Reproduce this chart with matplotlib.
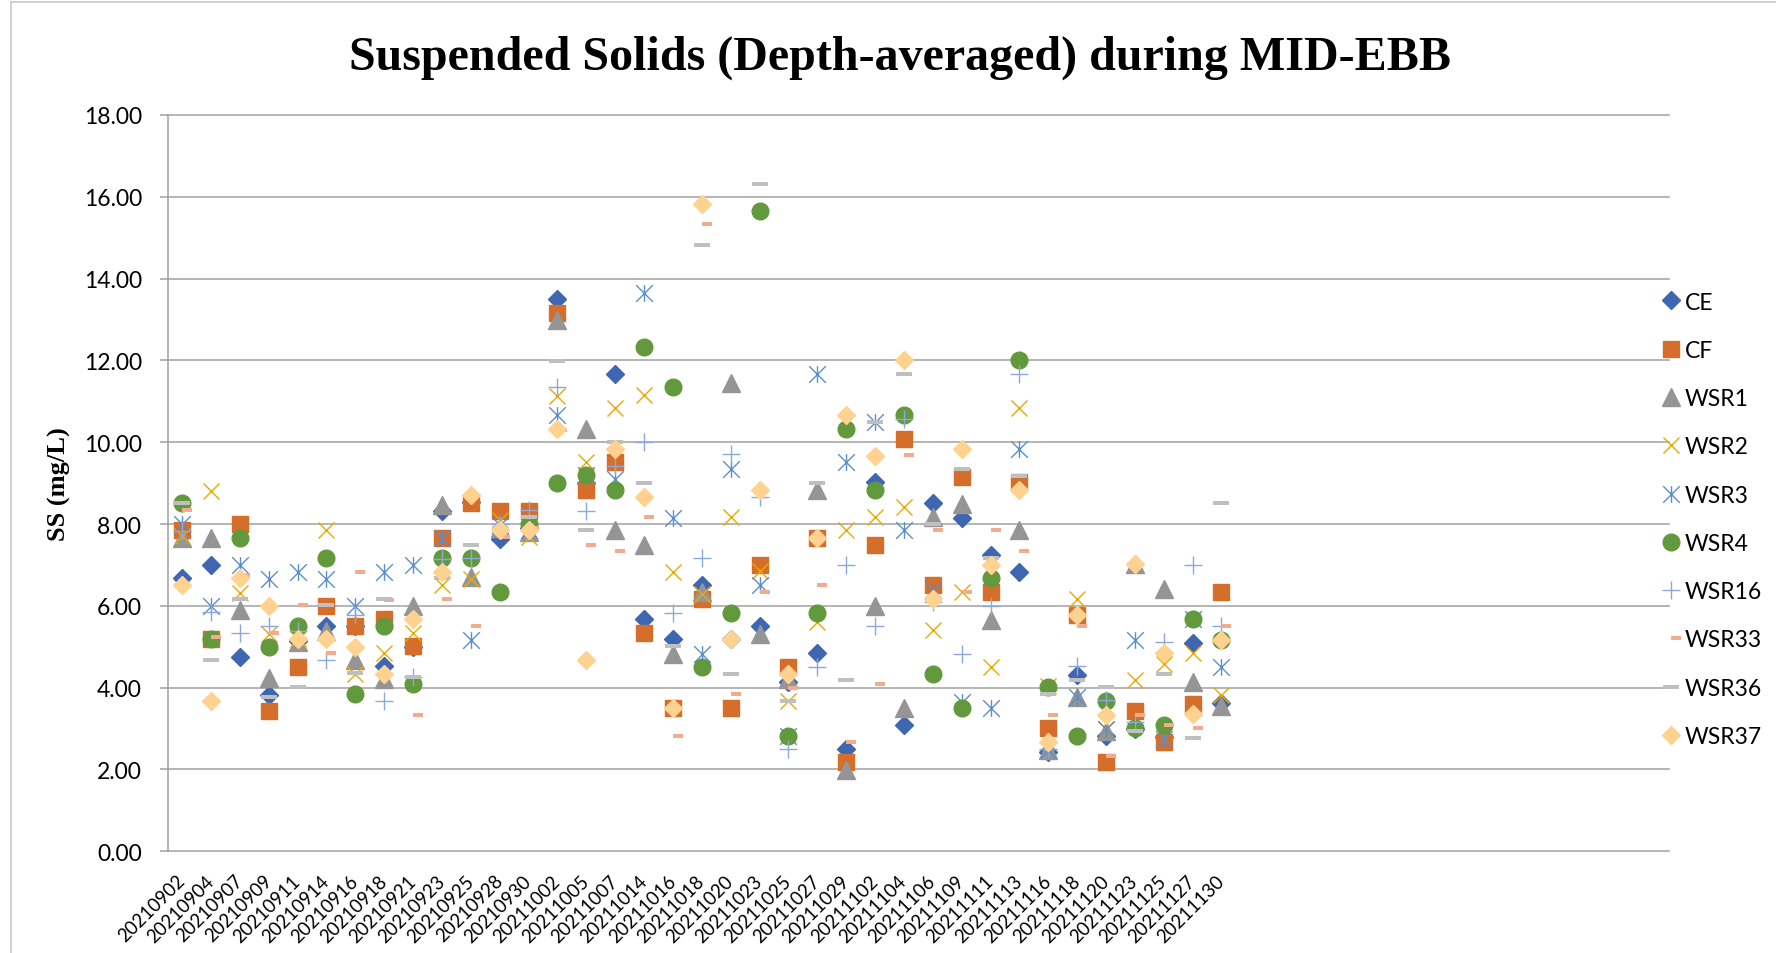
import numpy as np
import matplotlib
matplotlib.use('Agg')
import matplotlib.pyplot as plt
from matplotlib.path import Path
from matplotlib.lines import Line2D

# ---------------- data ----------------
dates = ['20210902', '20210904', '20210907', '20210909', '20210911', '20210914',
         '20210916', '20210918', '20210921', '20210923', '20210925', '20210928',
         '20210930', '20211002', '20211005', '20211007', '20211014', '20211016',
         '20211018', '20211020', '20211023', '20211025', '20211027', '20211029',
         '20211102', '20211104', '20211106', '20211109', '20211111', '20211113',
         '20211116', '20211118', '20211120', '20211123', '20211125', '20211127',
         '20211130']

CE = [6.69, 7.00, 4.76, 3.81, 5.15, 5.52, 5.50, 4.53, 5.00, 8.33, 8.55, 7.64, 7.90,
      13.50, 9.00, 11.67, 5.69, 5.20, 6.52, 5.20, 5.52, 4.14, 4.85, 2.51, 9.03, 3.09,
      8.52, 8.15, 7.25, 6.84, 2.43, 4.30, 2.83, 3.00, 2.80, 5.09, 3.63]
CF = [7.85, 5.18, 8.00, 3.43, 4.50, 6.00, 5.52, 5.69, 5.02, 7.66, 8.51, 8.33, 8.33,
      13.16, 8.84, 9.52, 5.34, 3.51, 6.17, 3.51, 7.01, 4.50, 7.67, 2.18, 7.50, 10.08,
      6.52, 9.15, 6.34, 9.03, 3.01, 5.77, 2.18, 3.44, 2.67, 3.59, 6.34]
WSR1 = [7.66, 7.66, 5.90, 4.23, 5.12, 5.38, 4.67, 4.22, 6.00, 8.46, 6.70, 7.90, 7.80,
        13.00, 10.32, 7.85, 7.48, 4.83, 6.34, 11.46, 5.32, 4.20, 8.83, 1.98, 6.00, 3.50,
        8.17, 8.50, 5.65, 7.85, 2.47, 3.77, 2.95, 7.03, 6.42, 4.15, 3.56]
WSR2 = [7.70, 8.82, 6.32, 5.32, 5.20, 7.85, 4.34, 4.85, 5.34, 6.50, 6.66, 8.09, 7.68,
        11.14, 9.51, 10.83, 11.15, 6.83, 6.30, 8.17, 6.85, 3.67, 5.60, 7.85, 8.17, 8.42,
        5.42, 6.34, 4.50, 10.83, 4.05, 6.17, 3.00, 4.18, 4.59, 4.85, 3.83]
WSR3 = [8.00, 6.00, 7.00, 6.66, 6.84, 6.66, 6.00, 6.83, 7.00, 7.66, 5.16, 7.97, 7.85,
        10.67, 9.20, 9.10, 13.66, 8.15, 4.83, 9.35, 6.50, 2.83, 11.67, 9.51, 10.50, 7.85,
        6.40, 3.65, 3.50, 9.83, 2.47, 3.77, 3.00, 5.17, 2.75, 5.67, 4.50]
WSR4 = [8.51, 5.18, 7.67, 4.99, 5.52, 7.17, 3.84, 5.50, 4.08, 7.17, 7.17, 6.34, 8.00,
        9.01, 9.19, 8.84, 12.34, 11.34, 4.50, 5.83, 15.65, 2.83, 5.83, 10.32, 8.84, 10.67,
        4.34, 3.50, 6.67, 12.00, 4.01, 2.83, 3.67, 3.01, 3.09, 5.67, 5.17]
WSR16 = [7.82, 5.85, 5.33, 5.52, 5.38, 4.67, 5.77, 3.67, 4.25, 7.15, 7.17, 8.00, 8.35,
         11.34, 8.33, 9.43, 10.00, 5.83, 7.17, 9.71, 8.66, 2.51, 4.50, 7.00, 5.52, 10.57,
         6.10, 4.83, 6.00, 11.67, 2.50, 4.53, 3.69, 3.16, 5.11, 7.00, 5.52]
WSR33 = [8.35, 5.25, 6.75, 5.34, 6.01, 4.84, 6.84, 6.15, 3.34, 6.17, 5.51, 7.68, 7.90,
         10.30, 7.50, 7.34, 8.17, 2.83, 15.33, 3.84, 6.34, 4.00, 6.50, 2.67, 4.10, 9.68,
         7.85, 6.34, 7.85, 7.34, 3.34, 5.52, 2.34, 3.34, 3.09, 3.02, 5.52]
WSR36 = [8.51, 4.67, 6.17, 3.77, 4.01, 6.01, 4.36, 6.17, 4.25, 6.68, 7.50, 7.90, 8.17,
         11.99, 7.85, 10.00, 9.01, 5.02, 14.83, 4.34, 16.32, 3.67, 9.01, 4.18, 10.50, 11.67,
         8.00, 9.34, 7.18, 9.17, 3.84, 4.18, 4.01, 2.93, 4.34, 2.76, 8.51]
WSR37 = [6.50, 3.67, 6.68, 6.00, 5.18, 5.18, 5.00, 4.34, 5.67, 6.84, 8.70, 7.85, 7.85,
         10.32, 4.67, 9.83, 8.66, 3.51, 15.82, 5.18, 8.84, 4.34, 7.67, 10.67, 9.67, 12.00,
         6.17, 9.83, 7.00, 8.84, 2.67, 5.77, 3.34, 7.03, 4.85, 3.35, 5.17]

series_names = ['CE', 'CF', 'WSR1', 'WSR2', 'WSR3', 'WSR4', 'WSR16', 'WSR33', 'WSR36', 'WSR37']
series_values = [CE, CF, WSR1, WSR2, WSR3, WSR4, WSR16, WSR33, WSR36, WSR37]

title = 'Suspended Solids (Depth-averaged) during MID-EBB'
ylabel = 'SS (mg/L)'
n_categories = 52   # category axis slots (blank ones on the right)

# ---------------- styling ----------------
plt.rcParams['font.family'] = ['Lato', 'DejaVu Sans']

W, H = 1776, 954
fig = plt.figure(figsize=(W / 100, H / 100), dpi=100)
L, R, T, B = 167.7, 1669.0, 116.0, 852.3
ax = fig.add_axes([L / W, 1 - B / H, (R - L) / W, (B - T) / H])

star = Path([(0, -1), (0, 1), (-1, -1), (1, 1), (-1, 1), (1, -1)],
            [Path.MOVETO, Path.LINETO] * 3)
short_dash = [(0, -0.2), (1, -0.2), (1, 0.2), (0, 0.2)]
long_dash = [(-1, -0.24), (1, -0.24), (1, 0.24), (-1, 0.24)]

styles = {
    'CE':    dict(marker='D', ms=8.7, color='#3F67B1'),
    'CF':    dict(marker='s', ms=12, color='#D56D2B'),
    'WSR1':  dict(marker='^', ms=12.5, color='#959595'),
    'WSR2':  dict(marker='x', ms=12, color='#E8A900', mew=1.0),
    'WSR3':  dict(marker=star, ms=12, color='#5A8FCC', mew=1.0, mfc='none'),
    'WSR4':  dict(marker='o', ms=12, color='#63993D'),
    'WSR16': dict(marker='+', ms=12.5, color='#8FA8DC', mew=1.0),
    'WSR33': dict(marker=short_dash, ms=14.4, color='#F4AA8C', mew=0),
    'WSR36': dict(marker=long_dash, ms=12.2, color='#BFBFBF', mew=0),
    'WSR37': dict(marker='D', ms=8.7, color='#FFD38F'),
}

x = np.arange(len(dates))
for name, vals in zip(series_names, series_values):
    st = dict(styles[name])
    ax.plot(x, vals, linestyle='none', label=name, **st)

grid_c = '#A0A0A0'
ax.set_xlim(-0.5, n_categories - 0.5)
ax.set_ylim(0, 18)
ax.set_yticks(np.arange(0, 18.1, 2))
ax.yaxis.set_major_formatter('{x:.2f}')
ax.yaxis.grid(True, color=grid_c, lw=1.1)
ax.set_axisbelow(True)
for gl in ax.get_ygridlines():
    gl.set_clip_on(False)
for s in ['top', 'right', 'bottom']:
    ax.spines[s].set_visible(False)
ax.spines['left'].set_color(grid_c)
ax.spines['left'].set_linewidth(1.1)

ax.tick_params(axis='y', length=6, width=1.1, color=grid_c, pad=12.5,
               labelsize=16.5, labelcolor='black')
ax.set_xticks(x)
ax.set_xticklabels(dates, rotation=45, ha='right', va='center',
                   rotation_mode='anchor', fontsize=13.4)
ax.tick_params(axis='x', length=0, pad=19)

ax.set_ylabel(ylabel, fontfamily='Liberation Serif', fontweight='bold', fontsize=19)
ax.yaxis.set_label_coords((71 - L) / (R - L), 0.5)

fig.text(900 / W, 1 - 70 / H, title, ha='center', va='baseline',
         fontfamily='Liberation Serif', fontweight='bold', fontsize=34.6)

ax.legend(loc='upper left', bbox_to_anchor=(1661.8 / W, 1 - 292.5 / H),
          bbox_transform=fig.transFigure, frameon=False, numpoints=1,
          handlelength=0.8, handletextpad=0.2, labelspacing=1.19,
          borderpad=0, borderaxespad=0, prop={'family': 'Lato', 'size': 16.5})

# chart-area border (partially visible)
bc = '#C8C8C8'
fig.add_artist(Line2D([11 / W, 11 / W], [0, 1 - 3.3 / H], transform=fig.transFigure,
                      color=bc, lw=1.2))
fig.add_artist(Line2D([11 / W, 1], [1 - 3.3 / H, 1 - 3.3 / H], transform=fig.transFigure,
                      color=bc, lw=1.2))

fig.savefig('out.png', dpi=100)
